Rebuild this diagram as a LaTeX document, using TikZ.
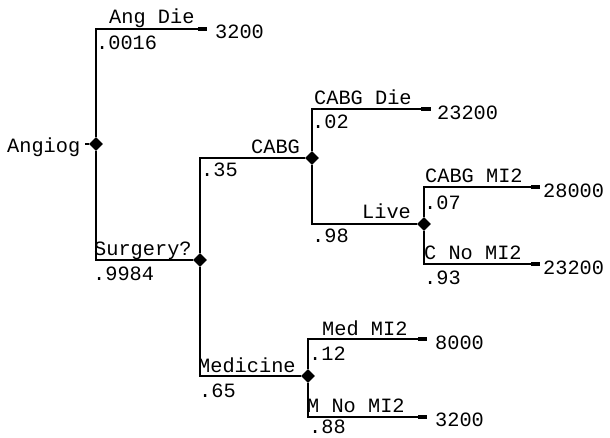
\documentclass[tikz,border=0pt]{standalone}
\usepackage{fontspec}
\setmonofont{Liberation Mono}
\usetikzlibrary{shapes.geometric}
\begin{document}
\begin{tikzpicture}[x=1pt,y=-1pt,
  txt/.style={inner sep=0pt,font=\ttfamily\fontsize{20.3}{24}\selectfont},
  lbl/.style={txt,anchor=base west},
  val/.style={txt,anchor=west},
  dec/.style={diamond,fill=black,inner sep=0pt,minimum width=14pt,minimum height=14pt},
  branch/.style={line width=1.8pt},
  stub/.style={line width=4.5pt}]
\useasboundingbox (0,0) rectangle (610,438);
% decision / chance nodes
\node[dec] (A) at (96,144) {};
\node[dec] (S) at (200,260) {};
\node[dec] (C) at (312,158) {};
\node[dec] (L) at (424,224) {};
\node[dec] (M) at (308,376) {};
% root
\node[txt,anchor=base west] (root) at (7,153) {Angiog};
\coordinate (r0) at ([xshift=5pt]root.east|-A);
% terminal coordinates
\coordinate (e1) at (198,29);  \coordinate (f1) at (207,29);
\coordinate (e2) at (421,109); \coordinate (f2) at (431,109);
\coordinate (e3) at (531,187); \coordinate (f3) at (540,187);
\coordinate (e4) at (531,264); \coordinate (f4) at (540,264);
\coordinate (e5) at (418,339); \coordinate (f5) at (427,339);
\coordinate (e6) at (418,417); \coordinate (f6) at (427,417);
% connectors
\draw[branch] (r0) -- (A);
\draw[branch] (A) |- (e1);
\draw[branch] (A) |- (S);
\draw[branch] (S) |- (C);
\draw[branch] (S) |- (M);
\draw[branch] (C) |- (e2);
\draw[branch] (C) |- (L);
\draw[branch] (L) |- (e3);
\draw[branch] (L) |- (e4);
\draw[branch] (M) |- (e5);
\draw[branch] (M) |- (e6);
\foreach \i in {1,...,6} {\draw[stub] (e\i) -- (f\i);}
% branch names
\node[lbl] (n1) at (109,24) {Ang Die};
\node[lbl] (n2) at (94,255) {Surgery?};
\node[lbl] (n3) at (251,154) {CABG};
\node[lbl] (n4) at (198,372) {Medicine};
\node[lbl] (n5) at (314,105) {CABG Die};
\node[lbl] (n6) at (362,219) {Live};
\node[lbl] (n7) at (425,183) {CABG MI2};
\node[lbl] (n8) at (424,260) {C No MI2};
\node[lbl] (n9) at (322,335) {Med MI2};
\node[lbl] (n10) at (307,412) {M No MI2};
% probabilities
\node[lbl] (p1) at (96,50) {.0016};
\node[lbl] (p2) at (93,280) {.9984};
\node[lbl] (p3) at (201,177) {.35};
\node[lbl] (p4) at (199,397) {.65};
\node[lbl] (p5) at (312,129) {.02};
\node[lbl] (p6) at (312,243) {.98};
\node[lbl] (p7) at (424,210) {.07};
\node[lbl] (p8) at (424,284) {.93};
\node[lbl] (p9) at (309,360) {.12};
\node[lbl] (p10) at (309,433) {.88};
% values
\node[val] (v1) at (215,32) {3200};
\node[val] (v2) at (437,113) {23200};
\node[val] (v3) at (543,191) {28000};
\node[val] (v4) at (543,268) {23200};
\node[val] (v5) at (435,343) {8000};
\node[val] (v6) at (435,420) {3200};
\end{tikzpicture}
\end{document}
